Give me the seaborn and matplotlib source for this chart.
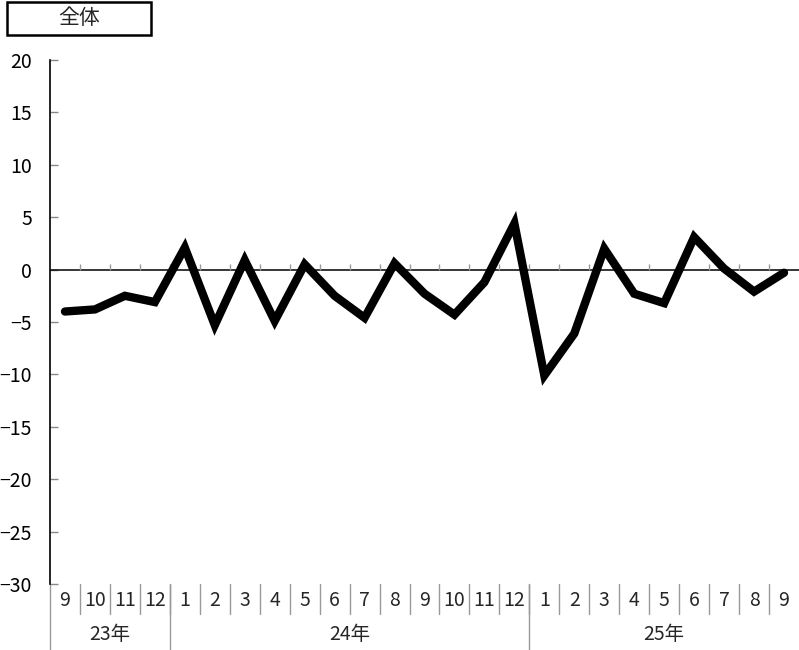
import matplotlib
matplotlib.use("Agg")
import matplotlib.pyplot as plt
import matplotlib.transforms as mtransforms
from matplotlib.patches import Rectangle
import seaborn as sns
import pandas as pd

# Monthly values, Sep 2023 - Sep 2025
months = ["9", "10", "11", "12",
          "1", "2", "3", "4", "5", "6", "7", "8", "9", "10", "11", "12",
          "1", "2", "3", "4", "5", "6", "7", "8", "9"]
values = [-4.0, -3.8, -2.5, -3.1,
          2.1, -5.3, 0.9, -4.9, 0.5, -2.5, -4.6, 0.6, -2.3, -4.3, -1.2, 4.4,
          -10.1, -6.1, 2.0, -2.3, -3.2, 3.1, 0.1, -2.1, -0.3]
years = ["23年", "24年", "25年"]
year_counts = [4, 12, 9]
title = "全体"
y_ticks = [20, 15, 10, 5, 0, -5, -10, -15, -20, -25, -30]

sns.set_theme(style="white")
plt.rcParams["font.family"] = ["Noto Sans CJK JP", "DejaVu Sans"]
plt.rcParams["axes.unicode_minus"] = True

FS = 14
W, H = 799, 650
fig = plt.figure(figsize=(W / 100, H / 100), dpi=100)
ax = fig.add_axes([50 / W, 1 - 584 / H, (799 - 50) / W, (584 - 60) / H])

df = pd.DataFrame({"pos": range(len(values)), "value": values})
sns.lineplot(data=df, x="pos", y="value", ax=ax, color="black",
             linewidth=6, solid_joinstyle="miter", solid_capstyle="round")

n = len(values)
ax.set_xlim(-0.5, n - 0.5)
ax.set_ylim(-30, 20)
ax.set_yticks(y_ticks)
ax.set_yticklabels([str(v).replace("-", "\u2212") for v in y_ticks], fontsize=FS)
ax.tick_params(axis="y", direction="in", length=6, width=1, color="#888888",
               pad=13, left=True, labelcolor="black")
ax.set_xticks([])
ax.set_xlabel("")
ax.set_ylabel("")

for side in ["top", "right", "bottom"]:
    ax.spines[side].set_visible(False)
ax.spines["left"].set_color("black")
ax.spines["left"].set_linewidth(1.2)

# zero line with small category ticks above it
ax.axhline(0, color="black", linewidth=1.1, zorder=1)
ax.vlines([k + 0.5 for k in range(n - 1)], 0, 0.55, color="#999999",
          linewidth=1, zorder=1)

# category label area below the plot
trans = mtransforms.blended_transform_factory(ax.transData, ax.transAxes)
ax_h = 584 - 60
def ay(py):
    return (584 - py) / ax_h

for k, m in enumerate(months):
    ax.text(k, ay(600), m, transform=trans, ha="center", va="center",
            fontsize=FS, clip_on=False)
for k in range(1, n):
    ax.plot([k - 0.5, k - 0.5], [ay(584), ay(614)], transform=trans,
            color="#999999", linewidth=1, clip_on=False)

start = 0
bounds = [start]
for c in year_counts:
    start += c
    bounds.append(start)
for b in bounds[:-1]:
    ax.plot([b - 0.5, b - 0.5], [ay(584), ay(650)], transform=trans,
            color="#999999", linewidth=1, clip_on=False)
for yr, b0, b1 in zip(years, bounds[:-1], bounds[1:]):
    ax.text((b0 + b1 - 1) / 2, ay(634), yr, transform=trans, ha="center",
            va="center", fontsize=FS, clip_on=False)

# title box
fig.patches.append(Rectangle((7 / W, 1 - 35 / H), (151 - 7) / W, (35 - 2) / H,
                             transform=fig.transFigure, fill=False,
                             edgecolor="black", linewidth=1.8))
fig.text(79 / W, 1 - 18 / H, title, ha="center", va="center", fontsize=15)

fig.savefig("out.png", dpi=100)
